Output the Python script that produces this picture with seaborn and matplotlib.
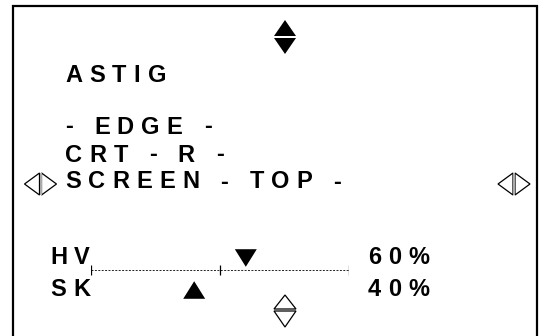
import matplotlib
matplotlib.use("Agg")
import matplotlib.pyplot as plt
from matplotlib.font_manager import FontProperties
import seaborn as sns
import pandas as pd

sns.set_theme(style="white")
plt.rcParams['font.family'] = ['Liberation Sans', 'DejaVu Sans']

# ---- data ----
title_text = "ASTIG"
menu_lines = ["- EDGE -", "CRT - R -", "SCREEN - TOP -"]
slider_labels = ["HV", "SK"]
slider_values = [60, 40]          # percent
slider_value_text = ["60%", "40%"]
slider_ticks = [0, 50, 100]

W, H, DPI = 550, 336, 100
fig = plt.figure(figsize=(W / DPI, H / DPI), dpi=DPI)
ax = fig.add_axes([0, 0, 1, 1])
ax.set_xlim(0, W)
ax.set_ylim(H, 0)
ax.axis("off")
renderer = fig.canvas.get_renderer()

FS = 17
TRACK = 7.2  # letter spacing in px
prop = FontProperties(family=['Liberation Sans', 'DejaVu Sans'], weight='bold', size=FS)


def adv(ch):
    w2, _, _ = renderer.get_text_width_height_descent("II", prop, ismath=False)
    w3, _, _ = renderer.get_text_width_height_descent("I" + ch + "I", prop, ismath=False)
    return w3 - w2


def tracked(x, y, s):
    for ch in s:
        if ch != " ":
            ax.text(x, y, ch, fontproperties=prop, color="black", va="center", ha="left")
        x += adv(ch) + TRACK


# frame (open at bottom)
ax.plot([13, 13, 537, 537], [H + 5, 6, 6, H + 5], color="black", lw=1.6,
        solid_joinstyle="miter", clip_on=False)

tracked(65, 75, title_text)
for y, s in zip([127, 155, 182], menu_lines):
    tracked(65, y, s)

# top up/down (filled)
ax.fill([274, 296, 285], [36, 36, 20], color="black", lw=0)
ax.fill([274, 296, 285], [38, 38, 54], color="black", lw=0)
# bottom up/down (hollow)
ax.fill([274, 296, 285], [309, 309, 295], facecolor="white", edgecolor="black", lw=0.9)
ax.fill([274, 296, 285], [311, 311, 327], facecolor="white", edgecolor="black", lw=0.9)
# left / right arrows (hollow)
for cx in (40.5, 514):
    ax.fill([cx - 1, cx - 1, cx - 16], [173, 195, 184], facecolor="white",
            edgecolor="black", lw=0.9)
    ax.fill([cx + 1, cx + 1, cx + 16], [173, 195, 184], facecolor="white",
            edgecolor="black", lw=0.9)
    ax.fill([cx - 1, cx + 1, cx + 1, cx - 1], [173, 173, 195, 195], color="#aaaaaa", lw=0)

# slider labels
label_y = [258, 290]
for y, s, v in zip(label_y, slider_labels, slider_value_text):
    tracked(50, y, s)
    tracked(368, y, v)

# slider axis: 0..100 mapped onto pixel 91..349, y in pixels
x0, x1 = 91, 349
sax = fig.add_axes([x0 / W, 0, (x1 - x0) / W, 1])
sax.patch.set_alpha(0)
sax.hlines(270, 0, 100, color="#222222", lw=0.7, linestyles=(0, (2, 1.5)))
sax.vlines(slider_ticks, 265, 275, color="black", lw=0.9)

df = pd.DataFrame({"label": slider_labels, "value": slider_values, "y": label_y})
down = [(-10, 8), (10, 8), (0, -8)]
up = [(-10, -8), (10, -8), (0, 8)]
sns.scatterplot(data=df.iloc[[0]], x="value", y="y", marker=down, s=250,
                color="black", edgecolor="none", ax=sax, legend=False)
sns.scatterplot(data=df.iloc[[1]], x="value", y="y", marker=up, s=250,
                color="black", edgecolor="none", ax=sax, legend=False)
sax.set_xlim(0, 100)
sax.set_ylim(H, 0)
sax.axis("off")

fig.savefig("out.png", dpi=DPI)
